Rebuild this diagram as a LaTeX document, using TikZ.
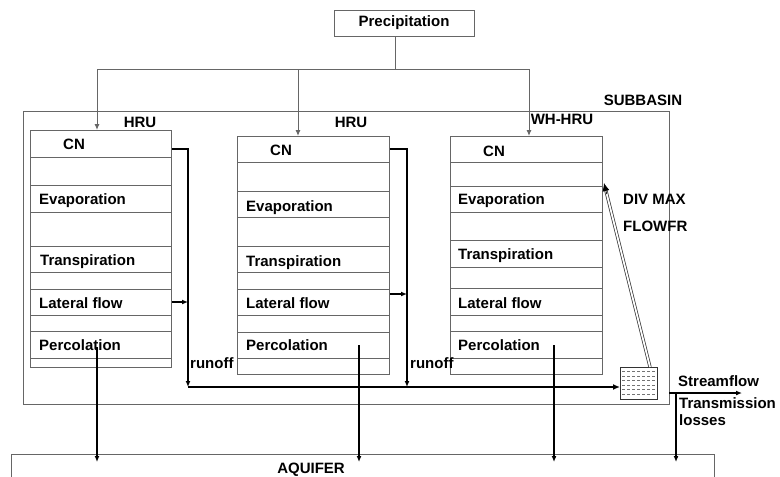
\documentclass[tikz,border=0pt]{standalone}
\usepackage{fontspec}
\setmainfont{Liberation Sans}
\usetikzlibrary{arrows.meta,calc}
\begin{document}
\begin{tikzpicture}[x=1pt,y=-1pt,
  lbl/.style={font=\fontsize{15}{18}\selectfont\bfseries,inner sep=0pt,anchor=base west},
  clbl/.style={lbl,anchor=base},
  boxline/.style={draw=black!60,line width=0.9pt},
  rowline/.style={draw=black!60,line width=0.8pt},
  conn/.style={draw=black,line width=1.2pt},
  feed/.style={draw=black!60,line width=1pt},
  arr/.style={-{Latex[length=6pt,width=5pt]}},
  hrubox/.style={boxline,minimum width=141pt,inner sep=0pt,anchor=north west}]
\useasboundingbox (0,0) rectangle (780,477);

% outer boxes
\node[boxline,minimum width=646pt,minimum height=293pt,inner sep=0pt,anchor=north west] (sub) at (23,111) {};
\node[clbl] (sublbl) at (643,105) {SUBBASIN};
\node[boxline,minimum width=703pt,minimum height=40pt,inner sep=0pt,anchor=north west] (aq) at (11,454) {};
\node[clbl] (aqlbl) at (311,473) {AQUIFER};

% precipitation
\node[boxline,minimum width=140pt,minimum height=26pt,inner sep=0pt,font=\fontsize{15}{18}\selectfont\bfseries] (prec) at (404,23) {Precipitation};

% HRU boxes
\node[hrubox,minimum height=237pt] (h1) at (30,130) {};
\node[hrubox,minimum width=152pt,minimum height=238pt] (h2) at (237,136) {};
\node[hrubox,minimum width=152pt,minimum height=238pt] (h3) at (450,136) {};
\foreach \y in {157,185,212,246,272,289,315,331,358}
  \draw[rowline] (h1.west |- 0,\y) -- (h1.east |- 0,\y);
\foreach \y in {162,191,217,246,272,289,315,332,358}
  \draw[rowline] (h2.west |- 0,\y) -- (h2.east |- 0,\y);
\foreach \y in {162,186,212,240,267,288,315,331,358}
  \draw[rowline] (h3.west |- 0,\y) -- (h3.east |- 0,\y);

\node[clbl] (l1) at (140,127) {HRU};
\node[clbl] (l2) at (351,127) {HRU};
\node[clbl] (l3) at (562,124) {WH-HRU};

% row texts
\node[lbl] (cn1) at (63,149) {CN};
\node[lbl] (ev1) at (39,204) {Evaporation};
\node[lbl] (tr1) at (40,265) {Transpiration};
\node[lbl] (lf1) at (39,308) {Lateral flow};
\node[lbl] (pc1) at (39,350) {Percolation};

\node[lbl] (cn2) at (270,155) {CN};
\node[lbl] (ev2) at (246,211) {Evaporation};
\node[lbl] (tr2) at (246,266) {Transpiration};
\node[lbl] (lf2) at (246,308) {Lateral flow};
\node[lbl] (pc2) at (246,350) {Percolation};

\node[lbl] (cn3) at (483,156) {CN};
\node[lbl] (ev3) at (458,204) {Evaporation};
\node[lbl] (tr3) at (458,259) {Transpiration};
\node[lbl] (lf3) at (458,308) {Lateral flow};
\node[lbl] (pc3) at (458,350) {Percolation};

% precipitation distribution
\coordinate (pj) at (395,69);
\coordinate (pl) at (97,69);
\coordinate (pm) at (298,69);
\coordinate (pr) at (529,69);
\draw[feed] (prec.south -| pj) -- (pj);
\draw[feed] (pl) -- (pr);
\draw[feed,arr] (pl) -- (pl |- h1.north);
\draw[feed,arr] (pm) -- (pm |- h2.north);
\draw[feed,arr] (pr) -- (pr |- h3.north);

% tank
\node[draw=black!80,line width=0.8pt,minimum width=37pt,minimum height=32pt,inner sep=0pt,anchor=north west] (tank) at (620,367) {};
\foreach \y in {371.5,376,380.5,385,389.5,394}
  \draw[black!55,line width=0.5pt,dash pattern=on 3pt off 2pt] (622,\y) -- (655,\y);

% runoff
\coordinate (r1t) at (188,149);
\coordinate (r1b) at (188,387);
\coordinate (r2t) at (407,149);
\coordinate (r2b) at (407,387);
\draw[conn,arr] (h1.east |- r1t) -- (r1t) -- (r1b);
\draw[conn,arr] (h1.east |- 0,302) -- (r1t |- 0,302);
\draw[conn,arr] (h2.east |- r2t) -- (r2t) -- (r2b);
\draw[conn,arr] (h2.east |- 0,294) -- (r2t |- 0,294);
\draw[line width=1.8pt,-{Latex[length=7pt,width=6pt]}] (r1b) -- (tank.west |- r1b);
\node[lbl] (ro1) at (190,368) {runoff};
\node[lbl] (ro2) at (410,368) {runoff};

% diversion
\coordinate (dv0) at (650,367);
\coordinate (dv1) at (604,183);
\draw[black!80,line width=0.7pt,double=white,double distance=1.8pt,shorten >=7pt] (dv0) -- (dv1);
\draw[black,line width=0.7pt,-{Latex[length=8pt,width=7pt]}] ($(dv1)!0.06!(dv0)$) -- (dv1);
\node[lbl] (dm) at (623,204) {DIV MAX};
\node[lbl] (ff) at (623,231) {FLOWFR};

% streamflow and losses
\coordinate (sf0) at (669,393);
\coordinate (sf1) at (742,393);
\coordinate (tl0) at (676,393);
\draw[conn,arr] (sf0) -- (sf1);
\draw[conn,arr] (tl0) -- (tl0 |- 0,462);
\node[lbl] (sf) at (678,386) {Streamflow};
\node[lbl] (tl) at (679,408) {Transmission};
\node[lbl] (ls) at (679,425) {losses};

% percolation
\coordinate (pp1) at (97,347);
\coordinate (pp2) at (359,345);
\coordinate (pp3) at (554,345);
\draw[conn,arr] (pp1) -- (pp1 |- 0,462);
\draw[conn,arr] (pp2) -- (pp2 |- 0,462);
\draw[conn,arr] (pp3) -- (pp3 |- 0,462);
\end{tikzpicture}
\end{document}
